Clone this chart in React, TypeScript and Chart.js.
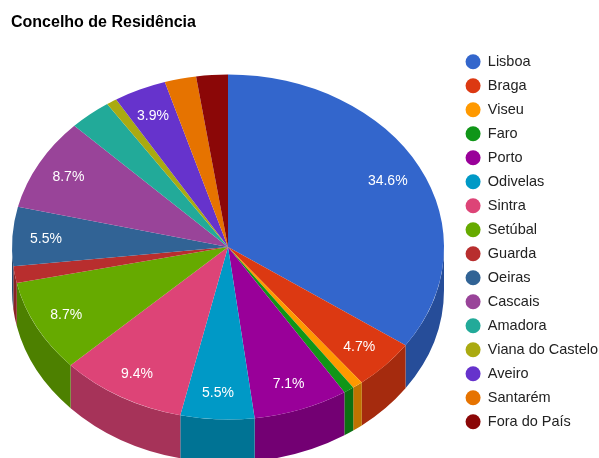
import { useEffect, useRef } from "react";
import { Chart, registerables } from "chart.js";

Chart.register(...registerables);

const categories = ["Lisboa", "Braga", "Viseu", "Faro", "Porto", "Odivelas", "Sintra", "Setúbal", "Guarda", "Oeiras", "Cascais", "Amadora", "Viana do Castelo", "Aveiro", "Santarém", "Fora do País"];
const counts = [44, 6, 1, 1, 9, 7, 12, 11, 2, 7, 11, 4, 1, 5, 3, 3];
const colors = ["#3366cc", "#dc3912", "#ff9900", "#109618", "#990099", "#0099c6", "#dd4477", "#66aa00", "#b82e2e", "#316395", "#994499", "#22aa99", "#aaaa11", "#6633cc", "#e67300", "#8b0707"];
const wallColors = ["#264d99", "#a52b0e", "#bf7300", "#0c7112", "#730073", "#007394", "#a63359", "#4d8000", "#8a2323", "#254a70", "#733373", "#1a8073", "#80800d", "#4d2699", "#ad5600", "#680505"];

const FONT = '"Liberation Sans", Arial, sans-serif';
const CX = 228;
const CY = 247;
const RX = 216;
const RY = 172.5;
const DEPTH = 43;
const LABEL_RATIO = 0.84;
const LABEL_MIN = 0.035;
const LABEL_DX = -1;
const LABEL_DY = 1;
const TITLE_SHIFT_X = 11;
const LEGEND_SHIFT_X = 9;
const LEGEND_SHIFT_Y = 45;

const pie3d = {
  id: "pie3d",
  afterLayout(chart: any) {
    chart.titleBlock.left += TITLE_SHIFT_X;
    chart.legend.left += LEGEND_SHIFT_X;
    chart.legend.right += LEGEND_SHIFT_X;
    chart.legend.top += LEGEND_SHIFT_Y;
    chart.legend.bottom += LEGEND_SHIFT_Y;
  },
  beforeDatasetsDraw(chart: any) {
    const ctx = chart.ctx;
    const arcs = chart.getDatasetMeta(0).data;
    ctx.save();
    arcs.forEach((arc: any, i: number) => {
      const a0 = Math.max(arc.startAngle, 0);
      const a1 = Math.min(arc.endAngle, Math.PI);
      if (a1 <= a0) return;
      ctx.beginPath();
      ctx.ellipse(CX, CY, RX, RY, 0, a0, a1);
      ctx.ellipse(CX, CY + DEPTH, RX, RY, 0, a1, a0, true);
      ctx.closePath();
      ctx.fillStyle = wallColors[i];
      ctx.fill();
    });
    ctx.restore();
    const first = arcs[0];
    ctx.save();
    ctx.translate(CX, CY);
    ctx.scale(RX / first.outerRadius, RY / first.outerRadius);
    ctx.translate(-first.x, -first.y);
  },
  afterDatasetsDraw(chart: any) {
    const ctx = chart.ctx;
    ctx.restore();
    const arcs = chart.getDatasetMeta(0).data;
    const total = counts.reduce((a, b) => a + b, 0);
    ctx.save();
    ctx.font = `14px ${FONT}`;
    ctx.fillStyle = "#ffffff";
    ctx.textAlign = "center";
    ctx.textBaseline = "middle";
    arcs.forEach((arc: any, i: number) => {
      const frac = counts[i] / total;
      if (frac < LABEL_MIN) return;
      const mid = (arc.startAngle + arc.endAngle) / 2;
      const x = CX + LABEL_DX + Math.cos(mid) * RX * LABEL_RATIO;
      const y = CY + LABEL_DY + Math.sin(mid) * RY * LABEL_RATIO;
      ctx.fillText(`${(frac * 100).toFixed(1)}%`, x, y);
    });
    ctx.restore();
  },
};

export default function App() {
  const ref = useRef<HTMLCanvasElement>(null);
  useEffect(() => {
    const chart = new Chart(ref.current!, {
      type: "pie",
      data: {
        labels: categories,
        datasets: [{ data: counts, backgroundColor: colors, borderWidth: 0, clip: false } as any],
      },
      options: {
        responsive: false,
        animation: false,
        layout: { padding: 0 },
        plugins: {
          title: {
            display: true,
            text: "Concelho de Residência",
            align: "start",
            color: "#000000",
            font: { family: FONT, size: 16, weight: "bold" },
            padding: { top: 13, bottom: 17 },
          },
          legend: {
            position: "right",
            align: "start",
            labels: {
              usePointStyle: true,
              pointStyle: "circle",
              pointStyleWidth: 15,
              boxHeight: 10.6,
              color: "#222222",
              font: { family: FONT, size: 14.5 },
              padding: 9.5,
            },
          },
          tooltip: { enabled: false },
        },
      } as any,
      plugins: [pie3d],
    });
    return () => chart.destroy();
  }, []);
  return (
    <canvas
      ref={ref}
      width={599}
      height={458}
      style={{ position: "fixed", left: 0, top: 0, width: 599, height: 458, display: "block" }}
    />
  );
}
